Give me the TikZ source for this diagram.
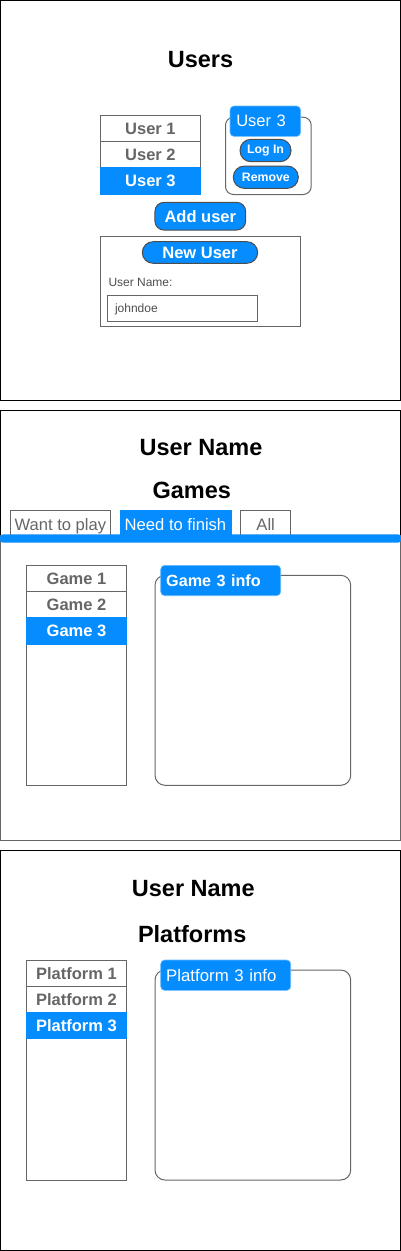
\documentclass[tikz,border=0pt]{standalone}
\usepackage{fontspec}
\setmainfont{Liberation Sans}
\usepackage{xcolor}
\usetikzlibrary{positioning}
\definecolor{uiblue}{HTML}{058CFF}
\definecolor{uigray}{HTML}{666666}
\definecolor{uidark}{HTML}{4D4D4D}

\begin{document}
\begin{tikzpicture}[x=1pt,y=-1pt,node distance=0pt,line width=1pt,
	panel/.style={draw=black},
	title/.style={font=\fontsize{23.5}{28}\selectfont\bfseries},
	item/.style={draw=uigray,text=uigray,minimum width=100.4pt,minimum height=26.3pt,inner sep=0pt,outer sep=0pt,font=\fontsize{16.5}{20}\selectfont\bfseries},
	picked/.style={item,fill=uiblue,draw=uiblue,text=white},
	listbox/.style={draw=uigray,minimum width=100.4pt,inner sep=0pt,outer sep=0pt},
	infobox/.style={draw=uigray,rounded corners=10pt,minimum width=195.7pt,inner sep=0pt,outer sep=0pt},
	infolabel/.style={fill=uiblue,draw=uiblue!60!white,line width=0.6pt,text=white,rounded corners=4pt,minimum height=30.4pt,inner xsep=5.5pt,inner ysep=0pt,align=left,outer sep=0pt},
	button/.style={fill=uiblue,draw=uidark,text=white,inner sep=0pt,outer sep=0pt,font=\fontsize{12.3}{14}\selectfont\bfseries},
	tab/.style={draw=uigray,text=uigray,minimum width=100.7pt,minimum height=29pt,text height=12pt,text depth=0pt,inner sep=0pt,outer sep=0pt,font=\fontsize{16.6}{20}\selectfont},
	field/.style={draw=uigray,inner sep=0pt,outer sep=0pt}]
	\useasboundingbox (0,0) rectangle (401,1251);

	% users screen
	\draw[panel] (0.5,0.5) rectangle (400,400);
	\node[title] (utitle) at (200.5,60) {Users};
	\node[item,anchor=north] (u1) at (150.4,115.3) {User 1};
	\node[item] (u2) [below=of u1] {User 2};
	\node[picked] (u3) [below=of u2] {User 3};
	\node[draw=uigray,rounded corners=8pt,minimum width=85.7pt,minimum height=77.3pt,anchor=north west,inner sep=0pt] (ubox) at (225,116.7) {};
	\node[infolabel,text width=58pt,font=\fontsize{16.5}{20}\selectfont,inner xsep=6.3pt,anchor=north west] (ulabel) at (230,106) {User 3};
	\node[button,rounded corners=11pt,minimum width=51pt,minimum height=22.4pt] (login) at (265.5,150.5) {Log In};
	\node[button,rounded corners=11pt,minimum width=65pt,minimum height=22.3pt] (remove) at (265.8,177.2) {Remove};
	\node[button,rounded corners=9pt,minimum width=90.7pt,minimum height=27.7pt,font=\fontsize{16.5}{20}\selectfont\bfseries] (adduser) at (200.3,216.2) {Add user};
	\node[field,minimum width=200.7pt,minimum height=90.7pt] (newbox) at (200.35,281.35) {};
	\node[button,rounded corners=10.8pt,minimum width=115.4pt,minimum height=21.6pt,font=\fontsize{16.5}{20}\selectfont\bfseries] (newuser) at (200,252.5) {New User};
	\node[text=uidark,anchor=west,inner sep=0pt,font=\fontsize{12}{14}\selectfont] (uname) at (108,282.7) {User Name:};
	\node[field,minimum width=150pt,minimum height=25.7pt] (ufield) at (182.3,308.8) {};
	\node[text=uidark,anchor=west,inner sep=0pt,font=\fontsize{12}{14}\selectfont] (utext) at (114.5,309.5) {johndoe};

	% games screen
	\draw[panel] (0.5,410.5) rectangle (400,840);
	\node[title] (gname) at (201,448) {User Name};
	\node[title] (gtitle) at (191.7,490.3) {Games};
	\node[tab,anchor=north west] (want) at (10,510) {Want to play};
	\node[tab,fill=uiblue,draw=uiblue,text=white,minimum width=111pt] (finish) [right=9.3pt of want] {Need to finish};
	\node[tab,minimum width=50pt] (all) [right=9.7pt of finish] {All};
	\draw[uigray] (0.5,535) rectangle (400,840);
	\fill[uiblue,rounded corners=3pt] (0,534.3) rectangle (401,542.7);
	\node[listbox,minimum height=220pt,anchor=north] (gbox) at (76.5,565.3) {};
	\node[item,anchor=north] (g1) at (gbox.north) {Game 1};
	\node[item] (g2) [below=of g1] {Game 2};
	\node[picked] (g3) [below=of g2] {Game 3};
	\node[infobox,minimum height=210pt,anchor=north west] (ginfo) at (155,575.3) {};
	\node[infolabel,text width=109pt,font=\fontsize{16.2}{20}\selectfont\bfseries,anchor=north west] (glabel) at (160.7,565.3) {Game 3 info};

	% platforms screen
	\draw[panel] (0.5,850.5) rectangle (400,1250);
	\node[title] (pname) at (193.3,888.7) {User Name};
	\node[title] (ptitle) at (192.2,933.7) {Platforms};
	\node[listbox,minimum height=220pt,anchor=north] (pbox) at (76.5,960) {};
	\node[item,anchor=north] (p1) at (pbox.north) {Platform 1};
	\node[item] (p2) [below=of p1] {Platform 2};
	\node[picked] (p3) [below=of p2] {Platform 3};
	\node[infobox,minimum height=210pt,anchor=north west] (pinfo) at (155,970) {};
	\node[infolabel,text width=119pt,font=\fontsize{16.8}{20}\selectfont,anchor=north west] (plabel) at (160.7,960) {Platform 3 info};
\end{tikzpicture}
\end{document}
